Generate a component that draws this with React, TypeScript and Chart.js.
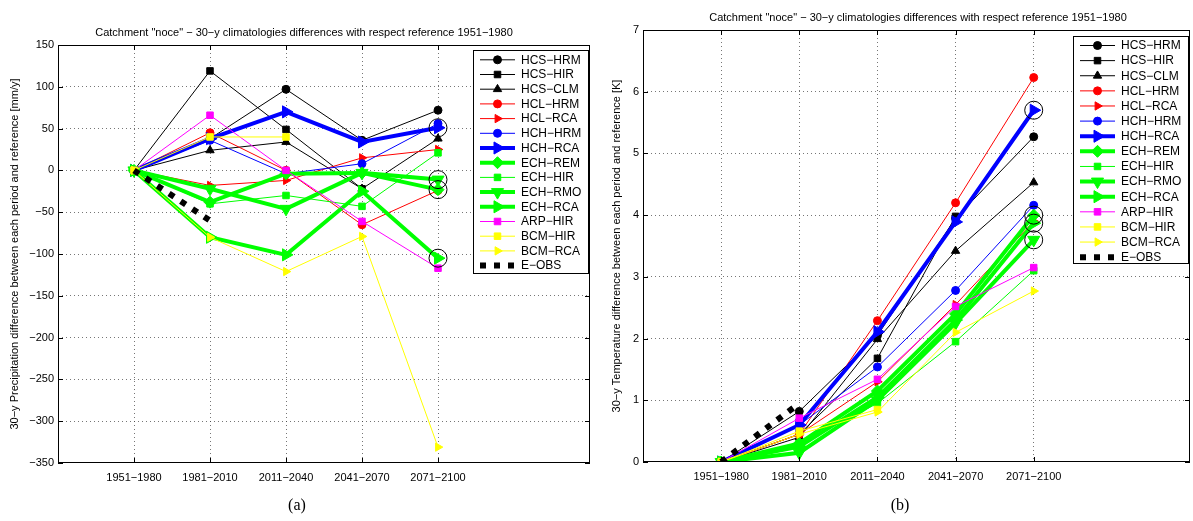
import React, { useEffect, useRef } from 'react';
import { Chart, registerables } from 'chart.js';

Chart.register(...registerables);

// ---------- categories / labels ----------
const periods = ['1951\u22121980', '1981\u22122010', '2011\u22122040', '2041\u22122070', '2071\u22122100'];
const seriesNames = [
  'HCS\u2212HRM', 'HCS\u2212HIR', 'HCS\u2212CLM', 'HCL\u2212HRM', 'HCL\u2212RCA',
  'HCH\u2212HRM', 'HCH\u2212RCA', 'ECH\u2212REM', 'ECH\u2212HIR', 'ECH\u2212RMO',
  'ECH\u2212RCA', 'ARP\u2212HIR', 'BCM\u2212HIR', 'BCM\u2212RCA', 'E\u2212OBS',
];
const chartTitle = 'Catchment "noce" \u2212 30\u2212y climatologies differences with respect reference 1951\u22121980';
const precipAxisTitle = '30\u2212y Precipitation difference between each period and reference [mm/y]';
const tempAxisTitle = '30\u2212y Temperature difference between each period and reference [K]';
const precipTicks = [-350, -300, -250, -200, -150, -100, -50, 0, 50, 100, 150];
const tempTicks = [0, 1, 2, 3, 4, 5, 6, 7];
// series that are circled at the last period
const circledSeries = [6, 7, 9, 10];

// ---------- precipitation differences [mm/y] ----------
const precip_HCS_HRM = [0, 38, 97, 36, 72];
const precip_HCS_HIR = [0, 119, 49, -22, null];
const precip_HCS_CLM = [0, 24, 34, -22, 38];
const precip_HCL_HRM = [0, 45, 0, -65, -24];
const precip_HCL_RCA = [0, -18, -12, 15, 25];
const precip_HCH_HRM = [0, 36, -4, 8, 56];
const precip_HCH_RCA = [0, 38, 70, 34, 51];
const precip_ECH_REM = [0, -38, -4, -3, -23];
const precip_ECH_HIR = [0, -40, -30, -43, 21];
const precip_ECH_RMO = [0, -22, -46, -3, -11];
const precip_ECH_RCA = [0, -80, -101, -25, -105];
const precip_ARP_HIR = [0, 66, 0, -61, -117];
const precip_BCM_HIR = [0, 40, 40, null, null];
const precip_BCM_RCA = [0, -80, -121, -79, -331];
const precip_E_OBS = [0, -60];

// ---------- temperature differences [K] ----------
const temp_HCS_HRM = [0, 0.82, 2.05, 3.95, 5.27];
const temp_HCS_HIR = [0, 0.45, 1.68, 3.98, null];
const temp_HCS_CLM = [0, 0.4, 1.99, 3.42, 4.53];
const temp_HCL_HRM = [0, 0.45, 2.29, 4.2, 6.23];
const temp_HCL_RCA = [0, 0.45, 1.3, 2.55, 3.9];
const temp_HCH_HRM = [0, 0.6, 1.54, 2.78, 4.16];
const temp_HCH_RCA = [0, 0.6, 2.11, 3.89, 5.7];
const temp_ECH_REM = [0, 0.3, 1.15, 2.4, 4.0];
const temp_ECH_HIR = [0, 0.3, 0.95, 1.95, 3.1];
const temp_ECH_RMO = [0, 0.15, 1.0, 2.25, 3.6];
const temp_ECH_RCA = [0, 0.25, 1.05, 2.3, 3.87];
const temp_ARP_HIR = [0, 0.71, 1.34, 2.52, 3.15];
const temp_BCM_HIR = [0, 0.5, 0.85, null, null];
const temp_BCM_RCA = [0, 0.45, 0.81, 2.1, 2.77];
const temp_E_OBS = [0, 0.95];

const precipSeries = [
  precip_HCS_HRM, precip_HCS_HIR, precip_HCS_CLM, precip_HCL_HRM, precip_HCL_RCA,
  precip_HCH_HRM, precip_HCH_RCA, precip_ECH_REM, precip_ECH_HIR, precip_ECH_RMO,
  precip_ECH_RCA, precip_ARP_HIR, precip_BCM_HIR, precip_BCM_RCA, precip_E_OBS,
];
const tempSeries = [
  temp_HCS_HRM, temp_HCS_HIR, temp_HCS_CLM, temp_HCL_HRM, temp_HCL_RCA,
  temp_HCH_HRM, temp_HCH_RCA, temp_ECH_REM, temp_ECH_HIR, temp_ECH_RMO,
  temp_ECH_RCA, temp_ARP_HIR, temp_BCM_HIR, temp_BCM_RCA, temp_E_OBS,
];

// ---------- styles ----------
type Style = { color: string; marker: string; rot: number; thick: boolean; dash: boolean };
const st = (color: string, marker: string, rot = 0, thick = false, dash = false): Style => ({ color, marker, rot, thick, dash });
const styles: Style[] = [
  st('#000000', 'circle'),
  st('#000000', 'rect'),
  st('#000000', 'triangle'),
  st('#ff0000', 'circle'),
  st('#ff0000', 'triangle', 90),
  st('#0000ff', 'circle'),
  st('#0000ff', 'triangle', 90, true),
  st('#00ff00', 'rectRot', 0, true),
  st('#00ff00', 'rect'),
  st('#00ff00', 'triangle', 180, true),
  st('#00ff00', 'triangle', 90, true),
  st('#ff00ff', 'rect'),
  st('#ffff00', 'rect'),
  st('#ffff00', 'triangle', 90),
  st('#000000', 'none', 0, false, true),
];

function markerRadius(s: Style) {
  if (s.marker === 'none') return 0;
  if (s.thick) return s.marker === 'rectRot' ? 6 : 7;
  if (s.marker === 'rect') return 4.6;
  if (s.marker === 'triangle') return 4.8;
  return 4;
}

const FONT = '"Liberation Sans", Arial, Helvetica, sans-serif';
const GRID = 'rgba(60,60,60,0.7)';

function drawMarker(ctx: CanvasRenderingContext2D, s: Style, x: number, y: number) {
  const r = markerRadius(s);
  if (!r) return;
  ctx.save();
  ctx.translate(x, y);
  ctx.rotate((s.rot * Math.PI) / 180);
  ctx.beginPath();
  if (s.marker === 'circle') ctx.arc(0, 0, r, 0, Math.PI * 2);
  else if (s.marker === 'rect') {
    const h = r * Math.SQRT1_2;
    ctx.rect(-h, -h, 2 * h, 2 * h);
  } else if (s.marker === 'rectRot') {
    ctx.moveTo(0, -r); ctx.lineTo(r, 0); ctx.lineTo(0, r); ctx.lineTo(-r, 0); ctx.closePath();
  } else if (s.marker === 'triangle') {
    for (let k = 0; k < 3; k++) {
      const a = (k * 2 * Math.PI) / 3;
      const px = Math.sin(a) * r, py = -Math.cos(a) * r;
      if (k === 0) ctx.moveTo(px, py); else ctx.lineTo(px, py);
    }
    ctx.closePath();
  }
  ctx.fillStyle = s.color;
  ctx.strokeStyle = s.color;
  ctx.lineWidth = 1;
  ctx.fill();
  ctx.stroke();
  ctx.restore();
}

const framePlugin = {
  id: 'matlabFrame',
  afterDatasetsDraw(chart: any, _args: any, opts: any) {
    const { ctx, chartArea: ca, scales } = chart;
    const xs = scales.x, ys = scales.y;
    ctx.save();
    ctx.strokeStyle = '#000';
    ctx.lineWidth = 1;
    ctx.setLineDash([]);
    const seg = (x1: number, y1: number, x2: number, y2: number) => {
      ctx.beginPath(); ctx.moveTo(x1, y1); ctx.lineTo(x2, y2); ctx.stroke();
    };
    for (let v = 1; v <= periods.length; v++) {
      const px = Math.round(xs.getPixelForValue(v)) + 0.5;
      seg(px, ca.top, px, ca.top + 5);
      seg(px, ca.bottom, px, ca.bottom - 5);
    }
    ys.ticks.forEach((t: any) => {
      const py = Math.round(ys.getPixelForValue(t.value)) + 0.5;
      seg(ca.left, py, ca.left + 5, py);
      seg(ca.right, py, ca.right - 5, py);
    });
    ctx.strokeRect(Math.round(ca.left) + 0.5, Math.round(ca.top) + 0.5, Math.round(ca.width) - 1, Math.round(ca.height) - 1);

    // legend box
    const bw = 115;
    const bx = Math.round(ca.right - 2 - bw) + 0.5;
    const by = Math.round(ca.top + opts.top) + 0.5;
    ctx.fillStyle = '#fff';
    ctx.fillRect(bx, by, bw, opts.height);
    ctx.strokeRect(bx, by, bw, opts.height);
    ctx.font = '12px ' + FONT;
    ctx.textBaseline = 'middle';
    ctx.textAlign = 'left';
    seriesNames.forEach((name, i) => {
      const s = styles[i];
      const y = by + opts.first + i * opts.step;
      ctx.save();
      ctx.strokeStyle = s.color;
      ctx.lineWidth = s.dash ? 6 : s.thick ? 4 : 1;
      ctx.setLineDash(s.dash ? [6, 8] : []);
      ctx.beginPath();
      ctx.moveTo(bx + 6.5, y);
      ctx.lineTo(bx + 41.5, y);
      ctx.stroke();
      ctx.restore();
      drawMarker(ctx, s, bx + 24, y);
      ctx.fillStyle = '#000';
      ctx.fillText(name, bx + 47.5, y + 0.5);
    });
    ctx.restore();
  },
};

function buildDatasets(series: (number | null)[][]) {
  const n = series.length;
  const ds: any[] = series.map((vals, i) => {
    const s = styles[i];
    return {
      label: seriesNames[i],
      data: vals.map((v, j) => ({ x: j + 1, y: v })),
      borderColor: s.color,
      backgroundColor: s.color,
      borderWidth: s.dash ? 6 : s.thick ? 4 : 1,
      borderDash: s.dash ? [6, 8] : [],
      borderCapStyle: 'butt',
      pointStyle: s.marker === 'none' ? false : s.marker,
      pointRadius: markerRadius(s),
      pointRotation: s.rot,
      pointBorderWidth: 1,
      pointBackgroundColor: s.color,
      pointBorderColor: s.color,
      tension: 0,
      fill: false,
      order: n + 1 - i,
    };
  });
  ds.push({
    label: '',
    data: circledSeries.map((i) => ({ x: 5, y: series[i][4] })),
    showLine: false,
    pointStyle: 'circle',
    pointRadius: 9,
    pointBorderWidth: 1,
    pointBorderColor: '#000',
    pointBackgroundColor: 'rgba(0,0,0,0)',
    borderColor: '#000',
    backgroundColor: 'rgba(0,0,0,0)',
    order: 0,
  });
  return ds;
}

function makeConfig(
  series: (number | null)[][],
  yTicks: number[],
  axisTitle: string,
  pad: { left: number; top: number; right: number; bottom: number },
  yWidth: number,
  titlePad: number,
  legend: { top: number; height: number; first: number; step: number },
): any {
  const yMin = yTicks[0], yMax = yTicks[yTicks.length - 1];
  const step = yTicks[1] - yTicks[0];
  const tickFont = { family: FONT, size: 11 };
  return {
    type: 'line',
    data: { datasets: buildDatasets(series) },
    plugins: [framePlugin],
    options: {
      responsive: false,
      animation: false,
      events: [],
      layout: { padding: pad, autoPadding: false },
      plugins: {
        legend: { display: false },
        tooltip: { enabled: false },
        title: { display: false },
        matlabFrame: legend,
      },
      scales: {
        x: {
          type: 'linear',
          min: 0,
          max: 7,
          afterFit: (s: any) => { s.height = 30; s.paddingLeft = 0; s.paddingRight = 0; },
          ticks: {
            stepSize: 1,
            autoSkip: false,
            maxRotation: 0,
            minRotation: 0,
            padding: 8,
            color: '#000',
            font: tickFont,
            callback: (v: number) => periods[v - 1] ?? '',
          },
          grid: {
            drawTicks: false,
            lineWidth: 1,
            color: (c: any) => (c.tick && c.tick.value >= 1 && c.tick.value <= periods.length ? GRID : 'rgba(0,0,0,0)'),
          },
          border: { display: false, dash: [1, 3] },
        },
        y: {
          type: 'linear',
          min: yMin,
          max: yMax,
          afterFit: (s: any) => { s.width = yWidth; s.paddingTop = 0; s.paddingBottom = 0; },
          ticks: {
            stepSize: step,
            padding: 4,
            color: '#000',
            font: tickFont,
            callback: (v: number) => String(v).replace('-', '\u2212'),
          },
          grid: {
            drawTicks: false,
            lineWidth: 1,
            color: (c: any) => (c.tick && c.tick.value > yMin && c.tick.value < yMax ? GRID : 'rgba(0,0,0,0)'),
          },
          border: { display: false, dash: [1, 3] },
          title: {
            display: true,
            text: axisTitle,
            color: '#000',
            font: { family: FONT, size: 11, lineHeight: 1.2 },
            padding: { top: titlePad, bottom: 0 },
          },
        },
      },
    },
  };
}

export default function App() {
  const leftRef = useRef<HTMLCanvasElement | null>(null);
  const rightRef = useRef<HTMLCanvasElement | null>(null);

  useEffect(() => {
    const left = new Chart(
      leftRef.current as HTMLCanvasElement,
      makeConfig(precipSeries, precipTicks, precipAxisTitle, { left: 0, top: 45, right: 10, bottom: 28 }, 58, 8.4,
        { top: 5, height: 223, first: 9.3, step: 14.7 }),
    );
    const right = new Chart(
      rightRef.current as HTMLCanvasElement,
      makeConfig(tempSeries, tempTicks, tempAxisTitle, { left: 0, top: 30, right: 3, bottom: 29 }, 43, 10.4,
        { top: 6, height: 227, first: 9, step: 15.12 }),
    );
    return () => {
      left.destroy();
      right.destroy();
    };
  }, []);

  const titleStyle: React.CSSProperties = {
    position: 'absolute',
    width: 600,
    height: 14,
    fontSize: 11,
    lineHeight: '14px',
    textAlign: 'center',
    whiteSpace: 'nowrap',
    fontFamily: FONT,
    color: '#000',
  };
  const capStyle: React.CSSProperties = {
    position: 'absolute',
    width: 200,
    top: 496,
    fontSize: 16,
    lineHeight: '18px',
    textAlign: 'center',
    fontFamily: '"Liberation Serif", "Times New Roman", serif',
    color: '#000',
  };

  return (
    <div style={{ position: 'absolute', left: 0, top: 0, width: 1193, height: 521, background: '#fff', overflow: 'hidden' }}>
      <canvas ref={leftRef} width={600} height={521} style={{ position: 'absolute', left: 0, top: 0, width: 600, height: 521 }} />
      <canvas ref={rightRef} width={593} height={521} style={{ position: 'absolute', left: 600, top: 0, width: 593, height: 521 }} />
      <div style={{ ...titleStyle, left: 4, top: 25 }}>{chartTitle}</div>
      <div style={{ ...titleStyle, left: 618, top: 10 }}>{chartTitle}</div>
      <div style={{ ...capStyle, left: 197 }}>(a)</div>
      <div style={{ ...capStyle, left: 800 }}>(b)</div>
    </div>
  );
}
